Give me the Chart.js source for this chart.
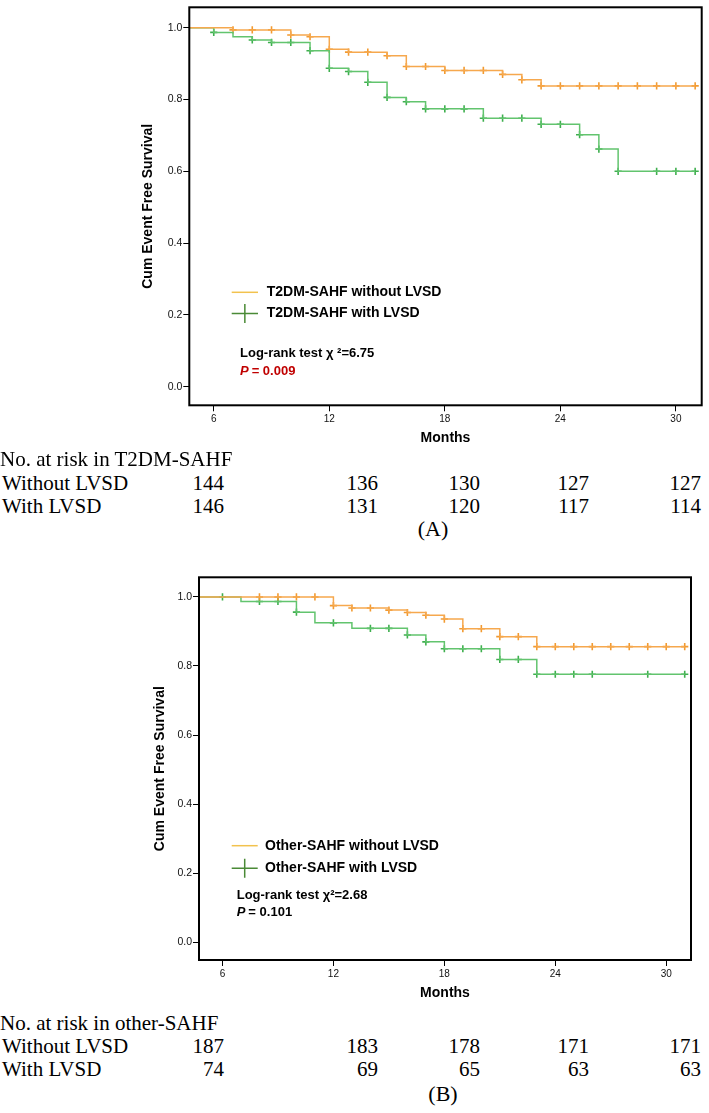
<!DOCTYPE html>
<html><head><meta charset="utf-8">
<script src="https://cdn.jsdelivr.net/npm/chart.js@4.4.0/dist/chart.umd.min.js"></script>
<style>
html,body{margin:0;padding:0;background:#fff;}
#page{position:relative;width:709px;height:1113px;overflow:hidden;background:#fff;}
canvas{position:absolute;left:0;}
.t{position:absolute;font-family:'Liberation Serif','Times New Roman',serif;font-size:21px;color:#000;white-space:nowrap;line-height:22px;height:22px;}
</style></head><body>
<div id="page">
<canvas id="cA" width="709" height="450" style="top:0px"></canvas>
<canvas id="cB" width="709" height="445" style="top:560px"></canvas>
</div>
<script>
// ---------- DATA ----------
const xTicks = [6, 12, 18, 24, 30];
const yTicks = [0, 0.2, 0.4, 0.6, 0.8, 1.0];

// Panel A: T2DM-SAHF
const aWithoutTimes = [0,7,8,9,10,11,12,13,14,15,16,17,18,19,20,21,22,23,24,25,26,27,28,29,30,31];
const aWithoutSurv  = [1,0.994,0.994,0.994,0.980,0.975,0.940,0.932,0.932,0.922,0.892,0.892,0.881,0.881,0.881,0.870,0.855,0.838,0.838,0.838,0.838,0.838,0.838,0.838,0.838,0.838];
const aWithoutCens  = [0,1,1,1,1,1,1,1,1,1,1,1,1,1,1,1,1,1,1,1,1,1,1,1,1,1];

const aWithTimes = [0,6,7,8,9,10,11,12,13,14,15,16,17,18,19,20,21,22,23,24,25,26,27,28,29,30,31];
const aWithSurv  = [1,0.987,0.975,0.966,0.959,0.959,0.936,0.887,0.878,0.848,0.806,0.794,0.774,0.774,0.774,0.748,0.748,0.748,0.731,0.731,0.702,0.662,0.600,0.600,0.600,0.600,0.600];
const aWithCens  = [0,1,0,1,1,1,1,1,1,1,1,1,1,1,1,1,1,1,1,1,1,1,1,0,1,1,1];

// Panel B: other-SAHF
const bWithoutTimes = [0,8,9,10,11,12,13,14,15,16,17,18,19,20,21,22,23,24,25,26,27,28,29,30,31];
const bWithoutSurv  = [1,1,1,1,1,0.975,0.968,0.968,0.962,0.955,0.947,0.936,0.908,0.908,0.885,0.885,0.856,0.856,0.856,0.856,0.856,0.856,0.856,0.856,0.856];
const bWithoutCens  = [0,1,1,1,1,1,1,1,1,1,1,1,1,1,1,1,1,1,1,1,1,1,1,1,1];

const bWithTimes = [0,6,7,8,9,10,11,12,13,14,15,16,17,18,19,20,21,22,23,24,25,26,29,31];
const bWithSurv  = [1,1,0.987,0.987,0.987,0.956,0.925,0.925,0.909,0.909,0.909,0.890,0.870,0.850,0.850,0.850,0.819,0.819,0.776,0.776,0.776,0.776,0.776,0.776];
const bWithCens  = [0,1,0,1,1,1,0,1,0,1,1,1,1,1,1,1,1,1,1,1,1,1,1,1];

// Numbers at risk
const riskLabelsA = ['No. at risk in T2DM-SAHF', 'Without LVSD', 'With LVSD'];
const riskA_without = [144, 136, 130, 127, 127];
const riskA_with    = [146, 131, 120, 117, 114];
const riskLabelsB = ['No. at risk in other-SAHF', 'Without LVSD', 'With LVSD'];
const riskB_without = [187, 183, 178, 171, 171];
const riskB_with    = [74, 69, 65, 63, 63];

// ---------- STYLE ----------
const ORANGE = '#F6A84E', ORANGE_M = '#F29A30';
const GREEN = '#62C46E', GREEN_M = '#3EAF4E';
const LEG_ORANGE = '#F2C24E', LEG_GREEN = '#4A8A36';

Chart.defaults.font.family = "'Liberation Sans', Arial, sans-serif";

function pts(times, surv) { return times.map((t, i) => ({x: t, y: surv[i]})); }
function cens(times, surv, flags) {
  return times.map((t, i) => ({x: t, y: surv[i]})).filter((p, i) => flags[i] === 1);
}

const annotPlugin = {
  id: 'annot',
  afterDraw(chart, args, o) {
    const {ctx, chartArea: a} = chart;
    ctx.save();
    ctx.strokeStyle = '#000';
    ctx.lineWidth = 2;
    ctx.strokeRect(a.left, a.top, a.right - a.left, a.bottom - a.top);
    ctx.textBaseline = 'middle';
    ctx.fillStyle = '#000';
    ctx.strokeStyle = LEG_ORANGE; ctx.lineWidth = 1.5;
    ctx.beginPath(); ctx.moveTo(o.lx1, o.y1); ctx.lineTo(o.lx2, o.y1); ctx.stroke();
    const cx = (o.lx1 + o.lx2) / 2;
    ctx.strokeStyle = LEG_GREEN; ctx.lineWidth = 1.5;
    ctx.beginPath();
    ctx.moveTo(o.lx1, o.y2); ctx.lineTo(o.lx2, o.y2);
    ctx.moveTo(cx, o.y2 - 9.5); ctx.lineTo(cx, o.y2 + 9.5);
    ctx.stroke();
    ctx.font = "bold 14px 'Liberation Sans', Arial, sans-serif";
    ctx.fillText(o.leg1, o.tx, o.y1);
    ctx.fillText(o.leg2, o.tx, o.y2);
    ctx.font = "bold 13px 'Liberation Sans', Arial, sans-serif";
    ctx.fillText(o.lr, o.lrx, o.lry);
    ctx.fillStyle = o.pColor;
    ctx.font = "italic bold 13px 'Liberation Sans', Arial, sans-serif";
    ctx.fillText('P', o.lrx, o.py);
    const w = ctx.measureText('P').width;
    ctx.font = "bold 13px 'Liberation Sans', Arial, sans-serif";
    ctx.fillText(o.p, o.lrx + w + 3, o.py);
    ctx.restore();
  }
};

function makeChart(id, L, d, ann) {
  return new Chart(document.getElementById(id), {
    type: 'line',
    data: {
      datasets: [
        {data: pts(d.t1, d.s1), borderColor: ORANGE, borderWidth: 1.5, stepped: 'before', pointRadius: 0, fill: false},
        {data: pts(d.t2, d.s2), borderColor: GREEN, borderWidth: 1.5, stepped: 'before', pointRadius: 0, fill: false},
        {data: cens(d.t1, d.s1, d.c1), showLine: false, pointStyle: 'cross', pointRadius: 3.6, pointBorderWidth: 1.6, borderColor: ORANGE_M, pointBorderColor: ORANGE_M, pointHoverRadius: 3.6},
        {data: cens(d.t2, d.s2, d.c2), showLine: false, pointStyle: 'cross', pointRadius: 3.6, pointBorderWidth: 1.6, borderColor: GREEN_M, pointBorderColor: GREEN_M, pointHoverRadius: 3.6}
      ]
    },
    options: {
      responsive: false, animation: false, devicePixelRatio: 1,
      layout: {padding: {top: L.pt, right: L.pr, left: 0, bottom: 0}},
      plugins: {legend: {display: false}, tooltip: {enabled: false}, annot: ann},
      scales: {
        x: {
          type: 'linear', min: 4.73, max: 31.34,
          afterBuildTicks: s => { s.ticks = xTicks.map(v => ({value: v})); },
          afterFit: s => { s.height = L.xh; },
          ticks: {font: {size: 10}, color: '#111', padding: 2, maxRotation: 0, autoSkip: false},
          grid: {drawOnChartArea: false, drawTicks: true, tickLength: 6, color: '#000', lineWidth: 1},
          border: {display: false},
          title: {display: true, text: 'Months', color: '#000', font: {size: 14, weight: 'bold'}, padding: {top: 0, bottom: 3.6}}
        },
        y: {
          type: 'linear', min: -0.052, max: 1.057,
          afterBuildTicks: s => { s.ticks = yTicks.map(v => ({value: v})); },
          afterFit: s => { s.width = L.yw; },
          ticks: {font: {size: 10.5}, color: '#111', padding: 1, callback: v => Number(v).toFixed(1)},
          grid: {drawOnChartArea: false, drawTicks: true, tickLength: 6, color: '#000', lineWidth: 1},
          border: {display: false},
          title: {display: true, text: 'Cum Event Free Survival', color: '#000', font: {size: 14, weight: 'bold'}, padding: {top: L.tpad, bottom: 0}}
        }
      }
    },
    plugins: [annotPlugin]
  });
}

makeChart('cA', {pt: 5, pr: 7.3, xh: 44.7, yw: 189.3, tpad: 139.6},
  {t1: aWithoutTimes, s1: aWithoutSurv, c1: aWithoutCens, t2: aWithTimes, s2: aWithSurv, c2: aWithCens},
  {leg1: 'T2DM-SAHF without LVSD', leg2: 'T2DM-SAHF with LVSD', lr: 'Log-rank test \u03C7 \u00B2=6.75', p: '= 0.009', pColor: '#C00000',
   lx1: 231.7, lx2: 258, y1: 292.3, y2: 313.5, tx: 266.7, lrx: 240, lry: 353, py: 371});

makeChart('cB', {pt: 17.3, pr: 18, xh: 45, yw: 199, tpad: 151.6},
  {t1: bWithoutTimes, s1: bWithoutSurv, c1: bWithoutCens, t2: bWithTimes, s2: bWithSurv, c2: bWithCens},
  {leg1: 'Other-SAHF without LVSD', leg2: 'Other-SAHF with LVSD', lr: 'Log-rank test \u03C7\u00B2=2.68', p: '= 0.101', pColor: '#000',
   lx1: 231.7, lx2: 257.7, y1: 285.7, y2: 308.3, tx: 265, lrx: 236.7, lry: 335, py: 352});

// ---------- Risk tables (text) ----------
const page = document.getElementById('page');
const colRight = [224, 378, 480, 589, 701];
function addText(txt, x, cy, align) {
  const d = document.createElement('div');
  d.className = 't';
  d.textContent = txt;
  d.style.top = (cy - 11) + 'px';
  if (align === 'right') { d.style.right = (709 - x) + 'px'; }
  else if (align === 'center') { d.style.left = x + 'px'; d.style.transform = 'translateX(-50%)'; }
  else { d.style.left = x + 'px'; }
  page.appendChild(d);
  return d;
}
function riskTable(labels, r1, r2, rows, caption, capX, capY) {
  addText(labels[0], 0, rows[0]);
  addText(labels[1], 2, rows[1]);
  addText(labels[2], 2, rows[2]);
  r1.forEach((v, i) => addText(String(v), colRight[i], rows[1], 'right'));
  r2.forEach((v, i) => addText(String(v), colRight[i], rows[2], 'right'));
  const c = addText(caption, capX, capY, 'center');
  c.style.fontSize = '22px';
}
riskTable(riskLabelsA, riskA_without, riskA_with, [459, 483, 506], '(A)', 433, 529);
riskTable(riskLabelsB, riskB_without, riskB_with, [1023, 1046, 1069], '(B)', 443, 1094);
</script>
</body></html>
